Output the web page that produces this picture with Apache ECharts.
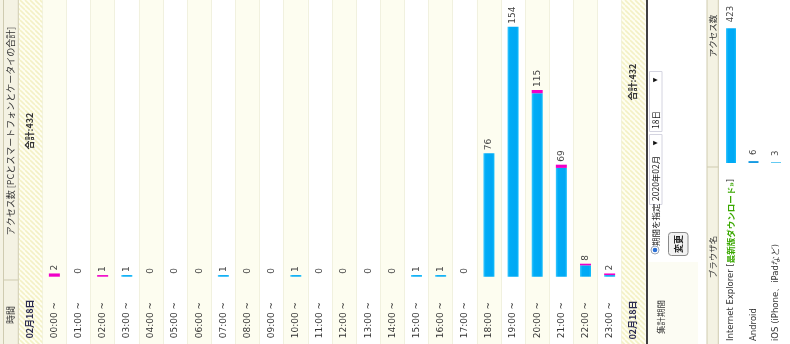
<!DOCTYPE html>
<html>
<head>
<meta charset="utf-8">
<script src="https://cdn.jsdelivr.net/npm/echarts@6/dist/echarts.min.js"></script>
<style>
  html, body { margin: 0; padding: 0; background: #ffffff; }
  #chart { width: 790px; height: 344px; }
</style>
</head>
<body>
<div id="chart"></div>
<script>
// Hourly access counts for one day, split into PC and smartphone traffic
const hours = ['00:00','01:00','02:00','03:00','04:00','05:00','06:00','07:00','08:00','09:00','10:00','11:00',
               '12:00','13:00','14:00','15:00','16:00','17:00','18:00','19:00','20:00','21:00','22:00','23:00'];
const pcCounts    = [0,0,0,1,0,0,0,1,0,0,1,0,0,0,0,1,1,0,76,154,113,67,7,1];
const phoneCounts = [2,0,1,0,0,0,0,0,0,0,0,0,0,0,0,0,0,0,0,0,2,2,1,1];
const dayLabel = '02月18日';

// Access counts per browser
const browsers = ['Internet Explorer', 'Android', 'iOS (iPhone、iPadなど)'];
const browserCounts = [423, 6, 3];

const totals = hours.map((h, i) => pcCounts[i] + phoneCounts[i]);
const grandTotal = totals.reduce((a, b) => a + b, 0);

const JP = '"Noto Sans CJK JP", sans-serif';
const LAT = '"DejaVu Sans", sans-serif';

// diagonal hatch used for the date/total columns
function hatchPattern() {
  const s = 5;
  const c = document.createElement('canvas');
  c.width = s; c.height = s;
  const ctx = c.getContext('2d');
  ctx.fillStyle = '#fefef2';
  ctx.fillRect(0, 0, s, s);
  ctx.strokeStyle = '#f4f1c6';
  ctx.lineWidth = 1.6;
  for (const k of [-s, 0, s]) {
    ctx.beginPath();
    ctx.moveTo(0, k);
    ctx.lineTo(s, s + k);
    ctx.stroke();
  }
  return { image: c, repeat: 'repeat' };
}

// vertical (upward-reading) text
function vtext(x, y, text, font, fill, align) {
  return {
    type: 'text', x: x, y: y, rotation: Math.PI / 2, silent: true, z: 10,
    style: {
      text: text, x: 0, y: 0, font: font, fill: fill || '#333',
      align: align || 'center', verticalAlign: 'middle',
      textAlign: align || 'center', textVerticalAlign: 'middle'
    }
  };
}
function rect(x, y, w, h, fill, stroke, extra) {
  return Object.assign({
    type: 'rect', silent: true, z: 1,
    shape: { x: x, y: y, width: w, height: h },
    style: { fill: fill || 'none', stroke: stroke || null, lineWidth: 1 }
  }, extra || {});
}
function vline(x, y1, y2, color, w) {
  return { type: 'line', silent: true, z: 2,
    shape: { x1: x, y1: y1, x2: x, y2: y2 },
    style: { stroke: color, lineWidth: w || 1 } };
}
function hline(y, x1, x2, color, w) {
  return { type: 'line', silent: true, z: 2,
    shape: { x1: x1, y1: y, x2: x2, y2: y },
    style: { stroke: color, lineWidth: w || 1 } };
}

const pcColor = {
  type: 'linear', x: 0, y: 0, x2: 1, y2: 0,
  colorStops: [
    { offset: 0, color: '#3cc8ff' },
    { offset: 0.2, color: '#00acf6' },
    { offset: 0.8, color: '#00a8f4' },
    { offset: 1, color: '#14bdfb' }
  ]
};
const phoneColor = '#f000c8';

const hatch = hatchPattern();
const headBg = '#f4f2e3';
const headLine = '#cfcbb0';

const graphics = [
  // left header strip
  rect(0, 0, 18.3, 344, headBg),
  vline(3.5, 0, 344, headLine),
  vline(18.3, 0, 344, headLine),
  hline(280, 3.5, 18.3, headLine),
  vtext(11, 131, 'アクセス数 [PCとスマートフォンとケータイの合計]', '9px ' + JP, '#333'),
  vtext(11, 315, '時間', '9px ' + JP, '#333'),
  // date / total columns
  rect(18.8, 0, 23.5, 344, hatch),
  rect(621.7, 0, 23.8, 344, hatch),
  vtext(30, 131, '合計:' + grandTotal, 'bold 9px ' + JP, '#333'),
  vtext(30, 319, dayLabel, 'bold 9px ' + JP, '#2c2c50'),
  vtext(633, 82, '合計:' + grandTotal, 'bold 9px ' + JP, '#333'),
  vtext(633, 320, dayLabel, 'bold 9px ' + JP, '#2c2c50'),
  // panel border
  vline(647, 0, 344, '#111', 1.6),
  // period selector
  rect(648, 262, 50, 82, '#fcfcf3'),
  rect(649.5, 134.5, 12.5, 70, '#ffffff', '#d4d4e0'),
  rect(649.5, 71.5, 12.5, 60, '#ffffff', '#d4d4e0'),
  vtext(655.5, 201, '2020年02月', '8.5px ' + JP, '#222', 'left'),
  vtext(655.5, 143, '▼', '6px ' + LAT, '#111'),
  vtext(655.5, 129, '18日', '8.5px ' + JP, '#222', 'left'),
  vtext(655.5, 80, '▼', '6px ' + LAT, '#111'),
  { type: 'circle', silent: true, z: 3, shape: { cx: 655, cy: 250, r: 4 },
    style: { fill: '#ffffff', stroke: '#9aa4b4', lineWidth: 1 } },
  { type: 'circle', silent: true, z: 4, shape: { cx: 655, cy: 250, r: 2.3 },
    style: { fill: '#2a6fd6' } },
  vtext(655.5, 246, '期間を指定', '8.5px ' + JP, '#222', 'left'),
  rect(668.5, 232.5, 19.5, 23, '#f2f2f2', '#8a8a8a', { shape: { x: 668.5, y: 232.5, width: 19.5, height: 23, r: 3 } }),
  vtext(678.3, 244, '変更', 'bold 9px ' + JP, '#222'),
  vtext(661, 317, '集計期間', '8.5px ' + JP, '#333'),
  // browser table header
  rect(707, 0, 11.3, 344, headBg),
  vline(707, 0, 344, headLine),
  vline(718.3, 0, 344, headLine),
  hline(167, 707, 718.3, headLine),
  vtext(712.8, 36, 'アクセス数', '8.5px ' + JP, '#333'),
  vtext(712.8, 257, 'ブラウザ名', '8.5px ' + JP, '#333')
];

const chart = echarts.init(document.getElementById('chart'), null, { renderer: 'canvas' });

chart.setOption({
  animation: false,
  backgroundColor: '#ffffff',
  grid: [
    { left: 42.3, right: 168.3, top: 0, bottom: 0 },
    { left: 42.3, right: 168.3, top: 0.7, bottom: 67.3 },
    { left: 719.75, right: 2.75, top: 3.6, bottom: 180 }
  ],
  xAxis: [
    { gridIndex: 0, type: 'category', data: hours, boundaryGap: true,
      axisLine: { show: false }, axisTick: { show: false }, axisLabel: { show: false },
      splitArea: { show: true, interval: 0, areaStyle: { color: ['#fdfdf0', '#ffffff'] } },
      splitLine: { show: true, interval: 0, lineStyle: { color: '#f1f1df', width: 1 } } },
    { gridIndex: 1, type: 'category', data: hours,
      axisLine: { show: false }, axisTick: { show: false },
      axisLabel: { interval: 0, rotate: 90, align: 'left', verticalAlign: 'middle', margin: 61.5,
        fontSize: 9, fontFamily: LAT, color: '#333', formatter: v => v + ' ~' } },
    { gridIndex: 2, type: 'category', data: browsers,
      axisLine: { show: false }, axisTick: { show: false },
      axisLabel: { interval: 0, rotate: 90, align: 'left', verticalAlign: 'middle', margin: 178,
        fontSize: 8.5, fontFamily: LAT, color: '#333',
        formatter: (v, i) => i === 0 ? v + ' [{g|最新版ダウンロード»}]' : v,
        rich: { g: { color: '#3aa800', fontWeight: 'bold', fontSize: 8.5, fontFamily: JP } } } }
  ],
  yAxis: [
    { gridIndex: 0, type: 'value', show: false, min: 0, max: 1 },
    { gridIndex: 1, type: 'value', show: false, min: 0, max: 170, splitLine: { show: false } },
    { gridIndex: 2, type: 'value', show: false, min: 0, max: 500, splitLine: { show: false } }
  ],
  series: [
    { name: 'PC', type: 'bar', xAxisIndex: 1, yAxisIndex: 1, stack: 'hour',
      data: pcCounts, barWidth: 11, itemStyle: { color: pcColor } },
    { name: 'スマートフォン', type: 'bar', xAxisIndex: 1, yAxisIndex: 1, stack: 'hour',
      data: phoneCounts, barWidth: 11, itemStyle: { color: phoneColor },
      label: { show: true, position: 'top', distance: 3, rotate: 90, align: 'left', verticalAlign: 'middle',
        fontSize: 9, fontFamily: LAT, color: '#444',
        formatter: p => String(totals[p.dataIndex]) } },
    { name: 'ブラウザ', type: 'bar', xAxisIndex: 2, yAxisIndex: 2,
      data: browserCounts.map((v, i) => ({ value: v,
        itemStyle: { color: i === 0 ? pcColor : (i === 1 ? '#159ae2' : '#5cc8f2') } })),
      barWidth: 10,
      label: { show: true, position: 'top', distance: 6, rotate: 90, align: 'left', verticalAlign: 'middle',
        fontSize: 8.5, fontFamily: LAT, color: '#444' } }
  ],
  graphic: { elements: graphics }
});
</script>
</body>
</html>
